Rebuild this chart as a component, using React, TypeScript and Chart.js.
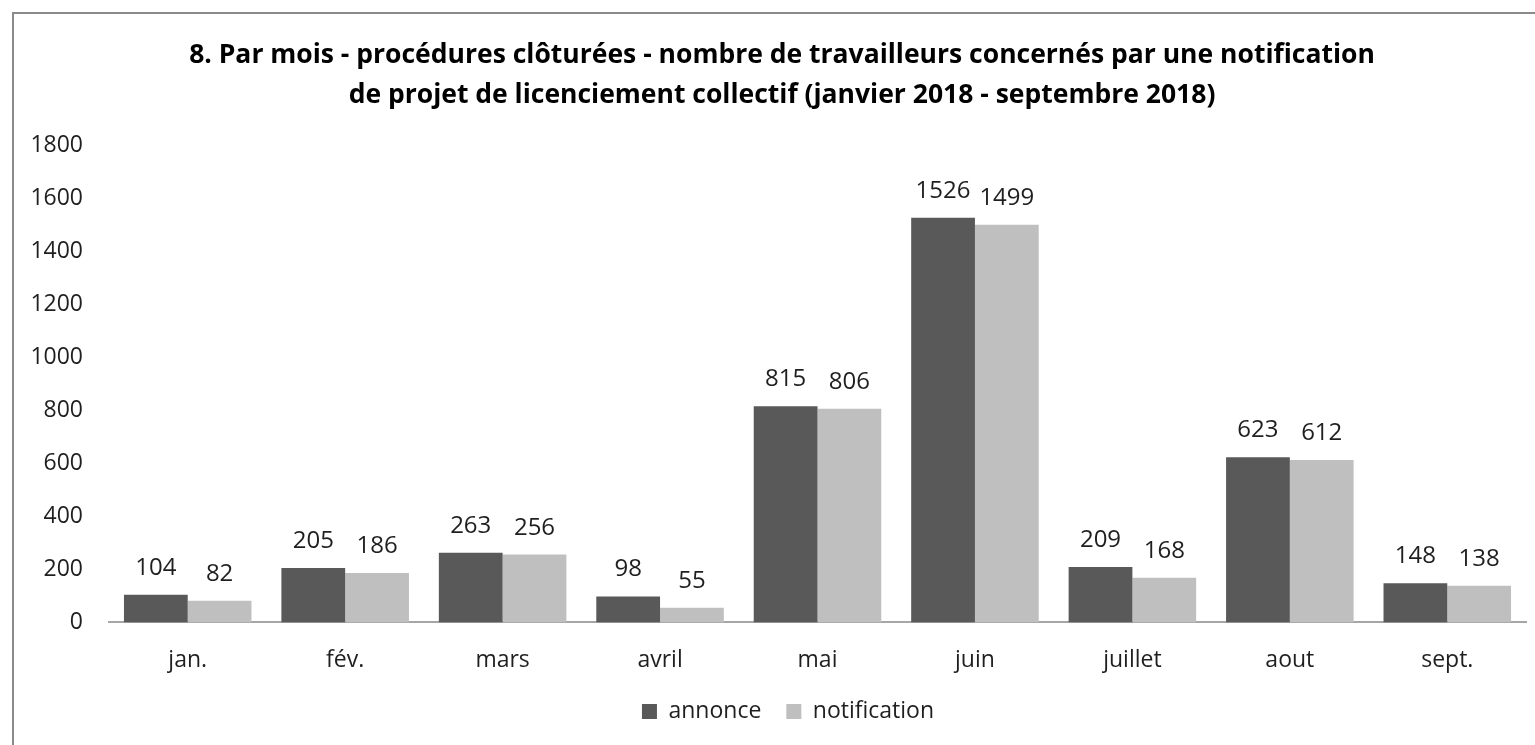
import React, { useEffect, useRef } from "react";
import { Chart, registerables } from "chart.js";

Chart.register(...registerables);

const titleLines = [
  "8. Par mois - procédures clôturées - nombre de travailleurs concernés par une notification",
  "de projet de licenciement collectif (janvier 2018 - septembre 2018)",
];
const categories = ["jan.", "fév.", "mars", "avril", "mai", "juin", "juillet", "aout", "sept."];
const annonceValues = [104, 205, 263, 98, 815, 1526, 209, 623, 148];
const notificationValues = [82, 186, 256, 55, 806, 1499, 168, 612, 138];
const seriesNames = ["annonce", "notification"];
const seriesColors = ["#595959", "#BFBFBF"];
const yMin = 0;
const yMax = 1800;
const yStep = 200;

const FONT = "'Open Sans', Lato, sans-serif";
const TEXT = "#1f1f1f";

const framePlugin = {
  id: "frame",
  beforeDraw(chart: any) {
    const ctx = chart.ctx;
    ctx.save();
    ctx.fillStyle = "#ffffff";
    ctx.fillRect(0, 0, chart.width, chart.height);
    ctx.strokeStyle = "#8a8a8a";
    ctx.lineWidth = 2;
    ctx.beginPath();
    ctx.moveTo(13, chart.height);
    ctx.lineTo(13, 13);
    ctx.lineTo(chart.width, 13);
    ctx.stroke();
    ctx.restore();
  },
};

const titlePlugin = {
  id: "customTitle",
  afterDraw(chart: any) {
    const ctx = chart.ctx;
    ctx.save();
    ctx.fillStyle = "#000000";
    ctx.font = `bold 26.5px ${FONT}`;
    ctx.textAlign = "center";
    ctx.textBaseline = "middle";
    titleLines.forEach((line, i) => {
      ctx.fillText(line, 782, 55 + i * 40);
    });
    ctx.restore();
  },
};

const dataLabelPlugin = {
  id: "dataLabels",
  afterDatasetsDraw(chart: any) {
    const ctx = chart.ctx;
    ctx.save();
    ctx.fillStyle = TEXT;
    ctx.font = `24px ${FONT}`;
    ctx.textAlign = "center";
    ctx.textBaseline = "alphabetic";
    chart.data.datasets.forEach((ds: any, di: number) => {
      const meta = chart.getDatasetMeta(di);
      meta.data.forEach((bar: any, i: number) => {
        ctx.fillText(String(ds.data[i]), bar.x, bar.y - 20);
      });
    });
    ctx.restore();
  },
};

const legendShiftPlugin = {
  id: "legendShift",
  afterLayout(chart: any) {
    const lg = chart.legend;
    if (!lg) return;
    lg.left += 25;
    lg.right += 25;
    lg.top -= 2;
    lg.bottom -= 2;
  },
};

export default function App() {
  const canvasRef = useRef<HTMLCanvasElement | null>(null);

  useEffect(() => {
    if (!canvasRef.current) return;
    const chart = new Chart(canvasRef.current, {
      type: "bar",
      data: {
        labels: categories,
        datasets: [
          {
            label: seriesNames[0],
            data: annonceValues,
            backgroundColor: seriesColors[0],
            categoryPercentage: 0.81,
            barPercentage: 1,
          },
          {
            label: seriesNames[1],
            data: notificationValues,
            backgroundColor: seriesColors[1],
            categoryPercentage: 0.81,
            barPercentage: 1,
          },
        ],
      },
      options: {
        animation: false,
        responsive: false,
        maintainAspectRatio: false,
        layout: { padding: { top: 145, right: 9, left: 0, bottom: 10 } },
        plugins: {
          title: { display: false },
          tooltip: { enabled: false },
          legend: {
            position: "bottom",
            labels: {
              boxWidth: 15,
              boxHeight: 15,
              padding: 25,
              color: TEXT,
              font: { family: FONT, size: 23 },
            },
          },
        },
        scales: {
          x: {
            grid: { display: false, drawTicks: false },
            border: { display: true, color: "#a6a6a6", width: 2 },
            ticks: { color: TEXT, font: { family: FONT, size: 23 }, padding: 24 },
            afterFit(scale: any) {
              scale.height -= 21;
            },
          },
          y: {
            min: yMin,
            max: yMax,
            grid: { display: false, drawTicks: false },
            border: { display: false },
            ticks: {
              stepSize: yStep,
              color: TEXT,
              font: { family: FONT, size: 23 },
              padding: 26,
              callback: (v: any) => String(v),
            },
            afterFit(scale: any) {
              scale.width = 109;
            },
          },
        },
      },
      plugins: [framePlugin, titlePlugin, dataLabelPlugin, legendShiftPlugin],
    });
    return () => chart.destroy();
  }, []);

  return (
    <div style={{ position: "fixed", left: 0, top: 0, width: 1535, height: 745, background: "#fff" }}>
      <canvas ref={canvasRef} width={1535} height={745} style={{ width: 1535, height: 745 }} />
    </div>
  );
}
